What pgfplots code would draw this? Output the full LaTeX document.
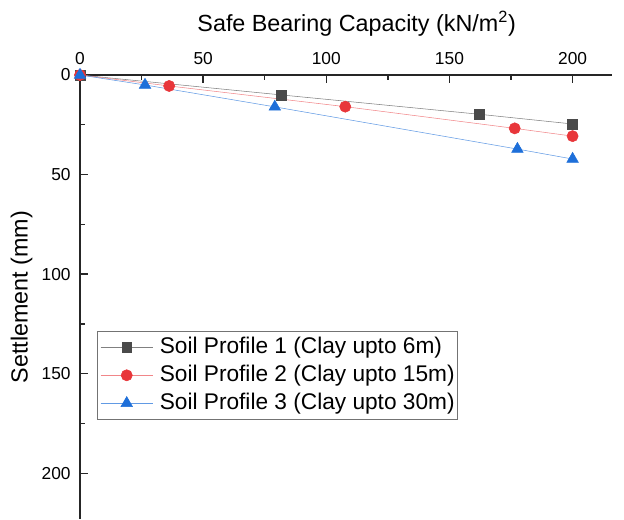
\documentclass[border=0pt]{standalone}
\usepackage{pgfplots}
\pgfplotsset{compat=1.18}
\usepackage{fontspec}
\setmainfont{Liberation Sans}
\setsansfont{Liberation Sans}

\definecolor{sp1}{HTML}{4A4A4A}
\definecolor{sp2}{HTML}{E8363A}
\definecolor{sp3}{HTML}{1E6FD9}

\begin{document}
\begin{tikzpicture}
\begin{axis}[
  scale only axis,
  width=399pt, height=333pt,
  y dir=reverse,
  axis x line*=top, axis y line*=left,
  xmin=0, xmax=216, ymin=0, ymax=223,
  xtick={0,50,...,200}, ytick={0,50,...,200},
  minor x tick num=1, minor y tick num=1,
  tick align=inside,
  major tick length=6pt, minor tick length=3.5pt,
  axis line style={line width=1pt, black!85},
  tick style={line width=1pt, black!85},
  tick label style={font=\fontsize{13}{15}\selectfont},
  xticklabel style={yshift=4.5pt},
  yticklabel style={xshift=-3.5pt},
  /pgf/number format/assume math mode=true,
  xlabel={Safe Bearing Capacity (kN/m\textsuperscript{2})},
  ylabel={Settlement (mm)},
  xlabel style={xshift=8pt, yshift=5pt},
  label style={font=\fontsize{17.5}{20}\selectfont},
  legend style={font=\fontsize{17}{20}\selectfont, at={(0.032,0.4234)}, anchor=north west,
    draw=black!55, row sep=5pt, column sep=5pt, inner xsep=2.25pt, inner ysep=4pt,
    nodes={inner sep=0pt, text height=12.5pt, text depth=3.5pt}},
  legend cell align=left,
  legend image code/.code={%
    \draw[mark repeat=2,mark phase=2] plot coordinates {(0cm,0cm) (0.69cm,0cm) (1.38cm,0cm)};},
]
\addplot[sp1!70, thin, mark=square*, mark size=3.7pt, mark options={fill=sp1, draw=sp1}]
  coordinates {(0,0) (81.7,10) (162,19.7) (200,24.6)};
\addlegendentry{Soil Profile 1 (Clay upto 6m)}
\addplot[sp2!60, thin, mark=*, mark size=4.2pt, mark options={fill=sp2, draw=sp2}]
  coordinates {(0,0) (36.2,5.5) (107.7,15.9) (176.5,26.8) (200,30.7)};
\addlegendentry{Soil Profile 2 (Clay upto 15m)}
\addplot[sp3!70, thin, mark=triangle*, mark size=5pt, mark options={fill=sp3, draw=sp3}]
  coordinates {(0,0) (26.4,5) (79.1,16) (177.6,37.2) (200,42.2)};
\addlegendentry{Soil Profile 3 (Clay upto 30m)}
\end{axis}
\pgfresetboundingbox
\path[use as bounding box] ([xshift=-60pt,yshift=56.25pt]current axis.north west)
  rectangle ([xshift=9pt]current axis.south east);
\end{tikzpicture}
\end{document}
